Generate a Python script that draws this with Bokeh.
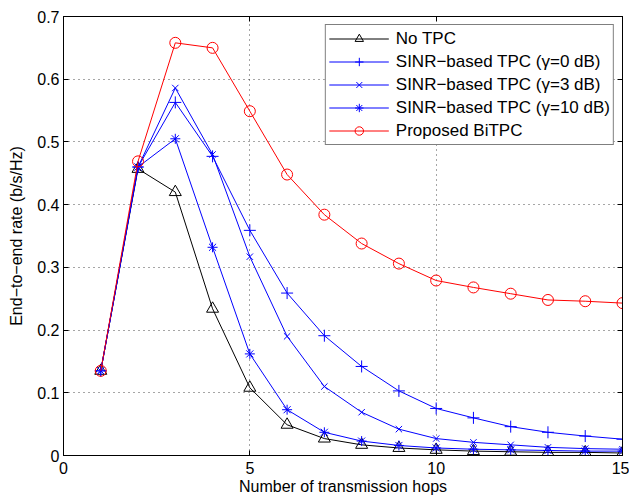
from bokeh.plotting import figure
from bokeh.models import Range1d, FixedTicker, LinearAxis, Legend, LegendItem, CustomJSTickFormatter
from bokeh.embed import file_html
from bokeh.resources import INLINE

hops = list(range(1, 16))
no_tpc = [0.135, 0.457, 0.420, 0.234, 0.108, 0.049, 0.027, 0.017, 0.012, 0.009, 0.007, 0.006, 0.005, 0.005, 0.004]
sinr_0db = [0.135, 0.460, 0.563, 0.477, 0.359, 0.259, 0.191, 0.142, 0.103, 0.075, 0.060, 0.046, 0.037, 0.031, 0.026]
sinr_3db = [0.135, 0.460, 0.586, 0.480, 0.317, 0.190, 0.110, 0.069, 0.042, 0.027, 0.021, 0.017, 0.013, 0.011, 0.010]
sinr_10db = [0.135, 0.460, 0.505, 0.332, 0.162, 0.073, 0.037, 0.023, 0.016, 0.012, 0.010, 0.009, 0.008, 0.007, 0.007]
bitpc = [0.135, 0.469, 0.658, 0.650, 0.549, 0.448, 0.384, 0.338, 0.306, 0.279, 0.268, 0.258, 0.248, 0.246, 0.243]

x_ticks = [0, 5, 10, 15]
y_ticks = [0, 0.1, 0.2, 0.3, 0.4, 0.5, 0.6, 0.7]

FONT = "Liberation Sans"
FS = "16px"

p = figure(width=629, height=498, output_backend="svg", toolbar_location=None,
           x_range=Range1d(0, 15), y_range=Range1d(0, 0.7),
           min_border_left=63, min_border_right=7, min_border_top=16, min_border_bottom=43)
p.outline_line_color = "black"
p.outline_line_width = 1
p.background_fill_color = "white"
p.border_fill_color = "white"

for ax in (p.xaxis[0], p.yaxis[0]):
    ax.major_tick_in = 5
    ax.major_tick_out = 0
    ax.minor_tick_line_color = None
    ax.axis_line_color = "black"
    ax.major_label_text_font = FONT
    ax.major_label_text_font_size = FS
    ax.major_label_text_color = "black"
    ax.axis_label_text_font = FONT
    ax.axis_label_text_font_size = FS
    ax.axis_label_text_font_style = "normal"
    ax.axis_label_text_color = "black"

p.xaxis.ticker = FixedTicker(ticks=x_ticks)
p.yaxis.ticker = FixedTicker(ticks=y_ticks)
p.yaxis.major_label_overrides = {0: "0"}
p.xaxis.axis_label = "Number of transmission hops"
p.yaxis.axis_label = "End\u2212to\u2212end rate (b/s/Hz)"
p.xaxis.major_label_standoff = 6
p.xaxis.axis_label_standoff = 1
p.yaxis.major_label_standoff = 4
p.yaxis.axis_label_standoff = 9

for loc, tk in (("right", y_ticks), ("above", x_ticks)):
    a = LinearAxis(ticker=FixedTicker(ticks=tk), major_tick_in=5, major_tick_out=0,
                   minor_tick_line_color=None,
                   formatter=CustomJSTickFormatter(code="return ''"),
                   axis_line_color="black", major_label_standoff=0)
    p.add_layout(a, loc)

p.xgrid.ticker = FixedTicker(ticks=x_ticks)
p.ygrid.ticker = FixedTicker(ticks=y_ticks)
p.grid.grid_line_color = "black"
p.grid.grid_line_alpha = 0.7
p.grid.grid_line_dash = "1 4"
p.grid.grid_line_width = 1

series = [
    ("No TPC", no_tpc, "black", "triangle", 12),
    ("SINR\u2212based TPC (\u03b3=0 dB)", sinr_0db, "#0000FF", "cross", 12),
    ("SINR\u2212based TPC (\u03b3=3 dB)", sinr_3db, "#0000FF", "x", 9),
    ("SINR\u2212based TPC (\u03b3=10 dB)", sinr_10db, "#0000FF", "asterisk", 10),
    ("Proposed BiTPC", bitpc, "#FF0000", "circle", 11),
]

items = []
for label, ys, color, marker, size in series:
    l = p.line(hops, ys, line_color=color, line_width=1)
    s = p.scatter(hops, ys, marker=marker, size=size, line_color=color,
                  fill_color=None, line_width=1)
    items.append(LegendItem(label=label, renderers=[l, s]))

legend = Legend(items=items, location="top_right")
legend.label_text_font = FONT
legend.label_text_font_size = "17px"
legend.label_text_color = "black"
legend.border_line_color = "black"
legend.border_line_width = 1
legend.background_fill_alpha = 1
legend.glyph_width = 60
legend.glyph_height = 21
legend.label_height = 21
legend.spacing = 2
legend.padding = 3
legend.margin = 8
legend.label_standoff = 7
p.add_layout(legend)

open("out.html", "w").write(file_html(p, INLINE))
